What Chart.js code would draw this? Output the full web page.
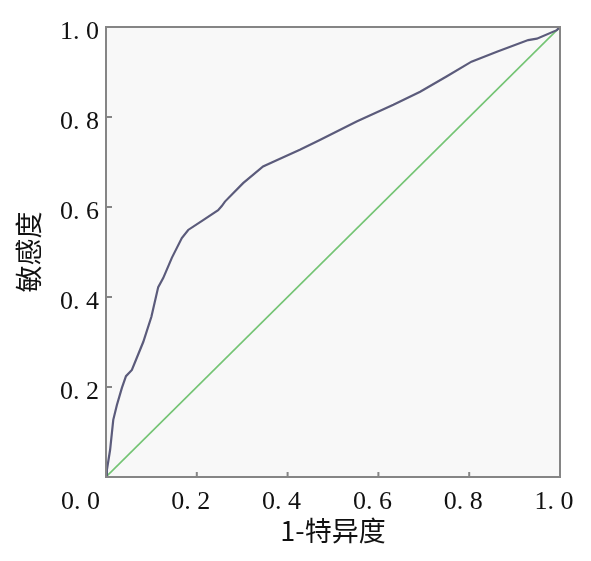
<!DOCTYPE html>
<html>
<head>
<meta charset="utf-8">
<script src="https://cdn.jsdelivr.net/npm/chart.js@4/dist/chart.umd.min.js"></script>
<style>
html,body{margin:0;padding:0;background:#fff;}
#wrap{width:591px;height:561px;position:relative;}
</style>
</head>
<body>
<div id="wrap"><canvas id="c" width="591" height="561"></canvas></div>
<script>
// 1 - specificity (x) and sensitivity (y)
const fprValues = [0, 0.002, 0.009, 0.016, 0.024, 0.035, 0.044, 0.057, 0.082, 0.100, 0.115, 0.126, 0.145, 0.167, 0.181, 0.214, 0.247, 0.255, 0.262, 0.302, 0.346, 0.376, 0.427, 0.471, 0.552, 0.633, 0.692, 0.750, 0.805, 0.861, 0.930, 0.949, 0.993, 1];
const tprValues = [0, 0.016, 0.060, 0.127, 0.160, 0.198, 0.224, 0.238, 0.300, 0.356, 0.422, 0.442, 0.487, 0.531, 0.549, 0.571, 0.593, 0.602, 0.612, 0.653, 0.690, 0.704, 0.727, 0.749, 0.790, 0.827, 0.856, 0.890, 0.923, 0.945, 0.971, 0.974, 0.993, 1];
const refX = [0, 1];
const refY = [0, 1];
const tickValues = [0, 0.2, 0.4, 0.6, 0.8, 1.0];
const xTitle = '1-特异度';
const yTitle = '敏感度';

function fmt(v){ return v.toFixed(1).replace('.', '. '); }

const frameColor = '#858585';
const framePlugin = {
  id: 'frame',
  beforeDraw(chart){
    const a = chart.chartArea, ctx = chart.ctx;
    ctx.save();
    ctx.fillStyle = '#f8f8f8';
    ctx.fillRect(a.left, a.top, a.right - a.left, a.bottom - a.top);
    ctx.restore();
  },
  afterDatasetsDraw(chart){
    const a = chart.chartArea, ctx = chart.ctx;
    const xs = chart.scales.x, ys = chart.scales.y;
    ctx.save();
    ctx.strokeStyle = frameColor;
    ctx.lineWidth = 2;
    ctx.strokeRect(a.left, a.top, a.right - a.left, a.bottom - a.top);
    ctx.beginPath();
    tickValues.forEach(v => {
      if (v === 0) return;
      const px = xs.getPixelForValue(v);
      ctx.moveTo(px, a.bottom); ctx.lineTo(px, a.bottom - 5);
      const py = ys.getPixelForValue(v);
      ctx.moveTo(a.left, py); ctx.lineTo(a.left + 6, py);
    });
    ctx.stroke();
    ctx.restore();
  }
};

new Chart(document.getElementById('c'), {
  type: 'scatter',
  data: {
    datasets: [
      {
        data: fprValues.map((x, i) => ({x: x, y: tprValues[i]})),
        showLine: true,
        borderColor: '#5b5b7b',
        borderWidth: 2.2,
        pointRadius: 0,
        tension: 0,
        order: 0
      },
      {
        data: refX.map((x, i) => ({x: x, y: refY[i]})),
        showLine: true,
        borderColor: '#74c474',
        borderWidth: 1.6,
        pointRadius: 0,
        order: 1
      }
    ]
  },
  options: {
    responsive: false,
    animation: false,
    devicePixelRatio: 1,
    layout: { padding: { top: 27, right: 31, left: 0, bottom: 0 } },
    plugins: { legend: { display: false }, tooltip: { enabled: false } },
    scales: {
      x: {
        type: 'linear', min: 0, max: 1,
        afterBuildTicks(scale){ scale.ticks = tickValues.map(v => ({value: v})); },
        afterFit(scale){ scale.height = 84; },
        grid: { display: false, drawTicks: false },
        border: { display: false },
        ticks: {
          padding: 10,
          labelOffset: -6,
          color: '#111',
          font: { family: 'Liberation Serif', size: 26 },
          maxRotation: 0,
          autoSkip: false,
          callback: (v) => v === 0 ? fmt(v) + '      ' : fmt(v)
        },
        title: {
          display: true, text: xTitle, color: '#111',
          font: { family: 'Noto Sans CJK SC', size: 27 },
          padding: { top: 0, bottom: 14 }
        }
      },
      y: {
        type: 'linear', min: 0, max: 1,
        afterBuildTicks(scale){ scale.ticks = tickValues.map(v => ({value: v})); },
        afterFit(scale){ scale.width = 106; },
        grid: { display: false, drawTicks: false },
        border: { display: false },
        ticks: {
          padding: 7,
          labelOffset: 5,
          color: '#111',
          font: { family: 'Liberation Serif', size: 26 },
          autoSkip: false,
          callback: (v) => v === 0 ? '' : fmt(v)
        },
        title: {
          display: true, text: yTitle, color: '#111',
          font: { family: 'Noto Sans CJK SC', size: 27 },
          padding: { top: 13, bottom: 0 }
        }
      }
    }
  },
  plugins: [framePlugin]
});
</script>
</body>
</html>
